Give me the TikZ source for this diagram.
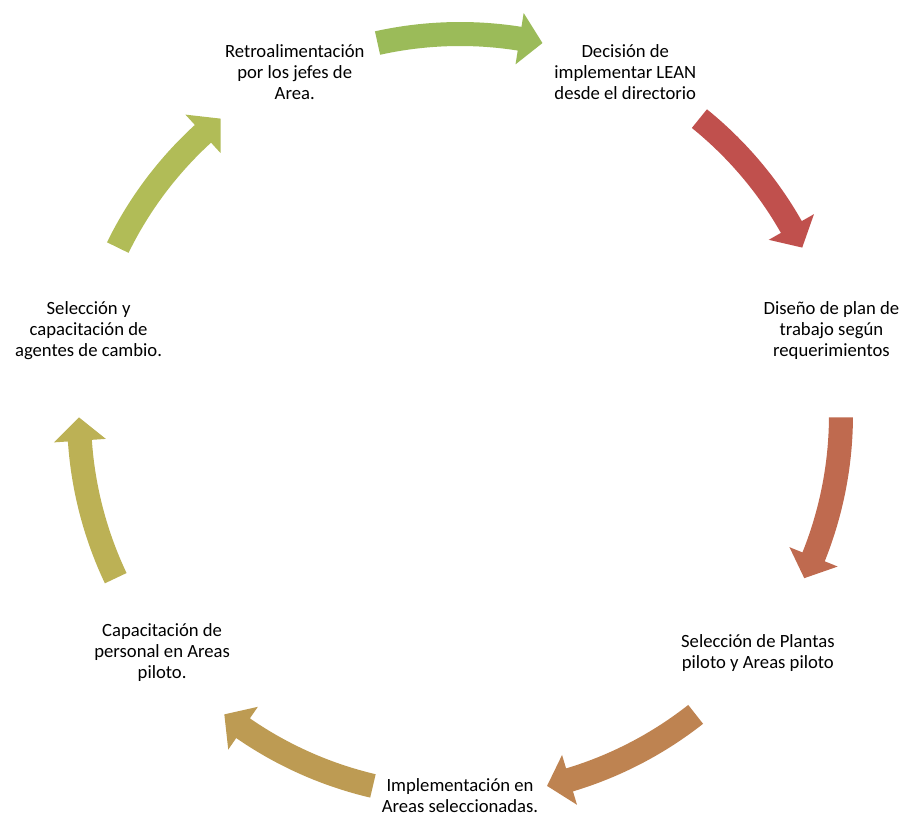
\documentclass[tikz,border=0pt]{standalone}
\usepackage{fontspec}
\setmainfont{Carlito}

\definecolor{arrowA}{HTML}{C0504D}
\definecolor{arrowB}{HTML}{BF6A4F}
\definecolor{arrowC}{HTML}{BE8351}
\definecolor{arrowD}{HTML}{BD9B53}
\definecolor{arrowE}{HTML}{BCB155}
\definecolor{arrowF}{HTML}{B1BC57}
\definecolor{arrowG}{HTML}{9BBB59}

% curved block arrow: colour, middle angle (runs clockwise)
\newcommand{\cyclearrow}[2]{%
  \fill[#1] ({#2+12.5}:393) arc[start angle={#2+12.5}, end angle={#2-9}, radius=393]
    -- ({#2-9}:407) -- ({#2-12.5}:381) -- ({#2-9}:355) -- ({#2-9}:369)
    arc[start angle={#2-9}, end angle={#2+12.5}, radius=369] -- cycle;}

\begin{document}
\begin{tikzpicture}[x=0.75pt, y=0.75pt,
  stage/.style={align=center, text=black, font=\fontsize{14pt}{15.75pt}\selectfont}]

\useasboundingbox (-460,-404) rectangle (444,415);

\node (decision) [stage] at (64.29:381) {Decisión de\\implementar LEAN\\desde el directorio};
\node (diseno) [stage] at (12.86:381) {Diseño de plan de\\trabajo según\\requerimientos};
\node (plantas) [stage] at (-38.57:381) {Selección de Plantas\\piloto y Areas piloto};
\node (implem) [stage] at (-90:381) {Implementación en\\Areas seleccionadas.};
\node (capacit) [stage] at (-141.43:381) {Capacitación de\\personal en Areas\\piloto.};
\node (agentes) [stage] at (167.14:381) {Selección y\\capacitación de\\agentes de cambio.};
\node (retro) [stage] at (115.71:381) {Retroalimentación\\por los jefes de\\Area.};

\cyclearrow{arrowA}{38.57}
\cyclearrow{arrowB}{-12.86}
\cyclearrow{arrowC}{-64.29}
\cyclearrow{arrowD}{-115.71}
\cyclearrow{arrowE}{-167.14}
\cyclearrow{arrowF}{141.43}
\cyclearrow{arrowG}{90}

\end{tikzpicture}
\end{document}
